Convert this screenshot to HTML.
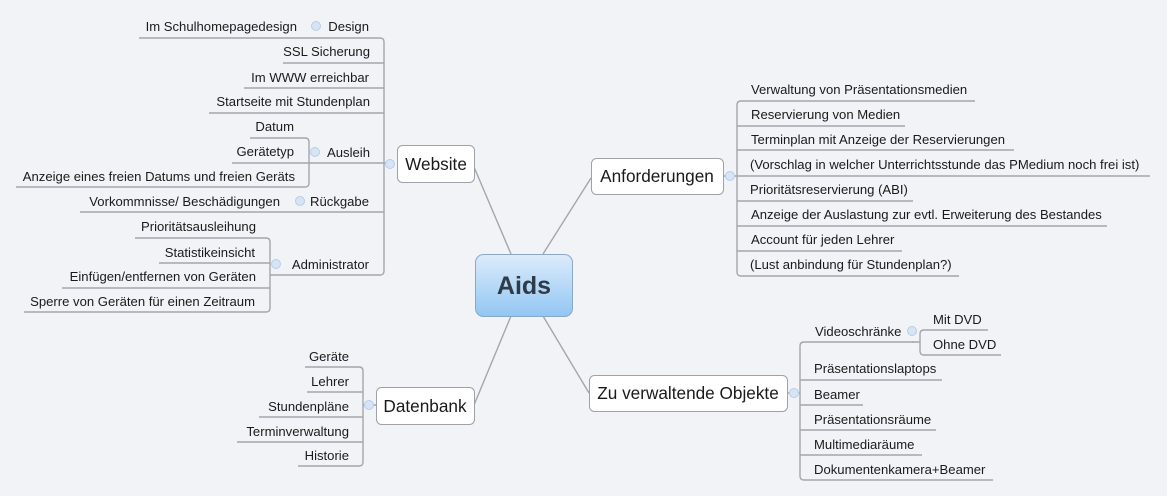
<!DOCTYPE html>
<html><head><meta charset="utf-8"><style>
html,body{margin:0;padding:0;background:#f2f3f7;}
svg{display:block;}
text{font-family:"Liberation Sans",sans-serif;fill:#1a1a1a;}
.s{font-size:13.1px;}
.m{font-size:17.2px;}
</style></head><body>
<svg width="1167" height="496" viewBox="0 0 1167 496" xmlns="http://www.w3.org/2000/svg">
<defs>
<linearGradient id="g" x1="0" y1="0" x2="0" y2="1">
<stop offset="0" stop-color="#dcecfb"/><stop offset="1" stop-color="#92c6f3"/>
</linearGradient>
</defs>
<g fill="none" stroke="#a3a6ad" stroke-width="1.4">
<line x1="511" y1="254" x2="474" y2="167"/>
<line x1="543" y1="254" x2="591" y2="178"/>
<line x1="511" y1="316" x2="474" y2="405"/>
<line x1="543" y1="316" x2="589" y2="393"/>
<path d="M139 38 H380 Q384 38 384 42 V271 Q384 275 380 275 H270"/>
<path d="M283 63 H384 M244 88 H384 M209 113 H384 M80 212 H384 M232 163 H390"/>
<path d="M250 138 H305 Q309 138 309 142 V183 Q309 187 305 187 H16"/>
<path d="M135 238 H266 Q270 238 270 242 V308 Q270 312 266 312 H24 M159 263 H270 M62 288 H270"/>
<path d="M975 101 H741 Q737 101 737 105 V272 Q737 276 741 276 H959"/>
<path d="M737 126 H905 M737 150 H1014 M723 176 H1150 M737 201 H913 M737 226 H1107 M737 251 H902"/>
<path d="M914 342 H804 Q800 342 800 346 V476 Q800 480 804 480 H993"/>
<path d="M787 393 H800 M800 380 H942 M800 405 H863 M800 430 H936 M800 455 H922"/>
<path d="M988 330 H924 Q920 330 920 334 V351 Q920 355 924 355 H1001 M912 342 H920"/>
<path d="M305 367 H359 Q363 367 363 371 V462 Q363 466 359 466 H298"/>
<path d="M307 392 H363 M259 417 H363 M237 442 H363 M363 405 H376"/>
</g>
<g fill="#d6e4f5" stroke="#b9cde6" stroke-width="1">
<circle cx="316" cy="26" r="4.5"/><circle cx="315" cy="152" r="4.5"/><circle cx="300" cy="201" r="4.5"/>
<circle cx="276" cy="264" r="4.5"/><circle cx="390" cy="164" r="4.5"/><circle cx="730" cy="176" r="4.5"/>
<circle cx="912" cy="331" r="4.5"/><circle cx="794" cy="393" r="4.5"/><circle cx="369" cy="405" r="4.5"/>
</g>
<g fill="#fff" stroke="#9ea1a8" stroke-width="1">
<rect x="397.5" y="145.5" width="77" height="37" rx="5"/>
<rect x="591.5" y="158.5" width="132" height="36" rx="5"/>
<rect x="376.5" y="387.5" width="98" height="37" rx="5"/>
<rect x="589.5" y="375.5" width="198" height="36" rx="5"/>
</g>
<rect x="475.5" y="254.5" width="97" height="62" rx="8" fill="url(#g)" stroke="#8aa7c4" stroke-width="1"/>
<text x="524" y="294" text-anchor="middle" style="font-size:25px;font-weight:bold;fill:#2f3b4a">Aids</text>
<g class="m">
<text x="436" y="170" text-anchor="middle">Website</text>
<text x="657" y="182" text-anchor="middle">Anforderungen</text>
<text x="425" y="412" text-anchor="middle">Datenbank</text>
<text x="688" y="399" text-anchor="middle">Zu verwaltende Objekte</text>
</g>
<g class="s" text-anchor="end">
<text x="369" y="31">Design</text>
<text x="297" y="31">Im Schulhomepagedesign</text>
<text x="370" y="56">SSL Sicherung</text>
<text x="369" y="82">Im WWW erreichbar</text>
<text x="370" y="106">Startseite mit Stundenplan</text>
<text x="294" y="131">Datum</text>
<text x="294" y="156">Gerätetyp</text>
<text x="370" y="157">Ausleih</text>
<text x="295" y="181">Anzeige eines freien Datums und freien Geräts</text>
<text x="280" y="206">Vorkommnisse/ Beschädigungen</text>
<text x="369" y="206">Rückgabe</text>
<text x="256" y="231">Prioritätsausleihung</text>
<text x="255" y="257">Statistikeinsicht</text>
<text x="256" y="281">Einfügen/entfernen von Geräten</text>
<text x="255" y="306">Sperre von Geräten für einen Zeitraum</text>
<text x="369" y="269">Administrator</text>
<text x="349" y="361">Geräte</text>
<text x="349" y="386">Lehrer</text>
<text x="349" y="411">Stundenpläne</text>
<text x="349" y="436">Terminverwaltung</text>
<text x="349" y="460">Historie</text>
</g>
<g class="s">
<text x="751" y="94">Verwaltung von Präsentationsmedien</text>
<text x="751" y="119">Reservierung von Medien</text>
<text x="751" y="144">Terminplan mit Anzeige der Reservierungen</text>
<text x="750" y="169">(Vorschlag in welcher Unterrichtsstunde das PMedium noch frei ist)</text>
<text x="750" y="194">Prioritätsreservierung (ABI)</text>
<text x="751" y="219">Anzeige der Auslastung zur evtl. Erweiterung des Bestandes</text>
<text x="751" y="244">Account für jeden Lehrer</text>
<text x="750" y="269">(Lust anbindung für Stundenplan?)</text>
<text x="815" y="336">Videoschränke</text>
<text x="933" y="324">Mit DVD</text>
<text x="933" y="349">Ohne DVD</text>
<text x="814" y="373">Präsentationslaptops</text>
<text x="814" y="399">Beamer</text>
<text x="814" y="424">Präsentationsräume</text>
<text x="814" y="449">Multimediaräume</text>
<text x="814" y="474">Dokumentenkamera+Beamer</text>
</g>
</svg>
</body></html>
